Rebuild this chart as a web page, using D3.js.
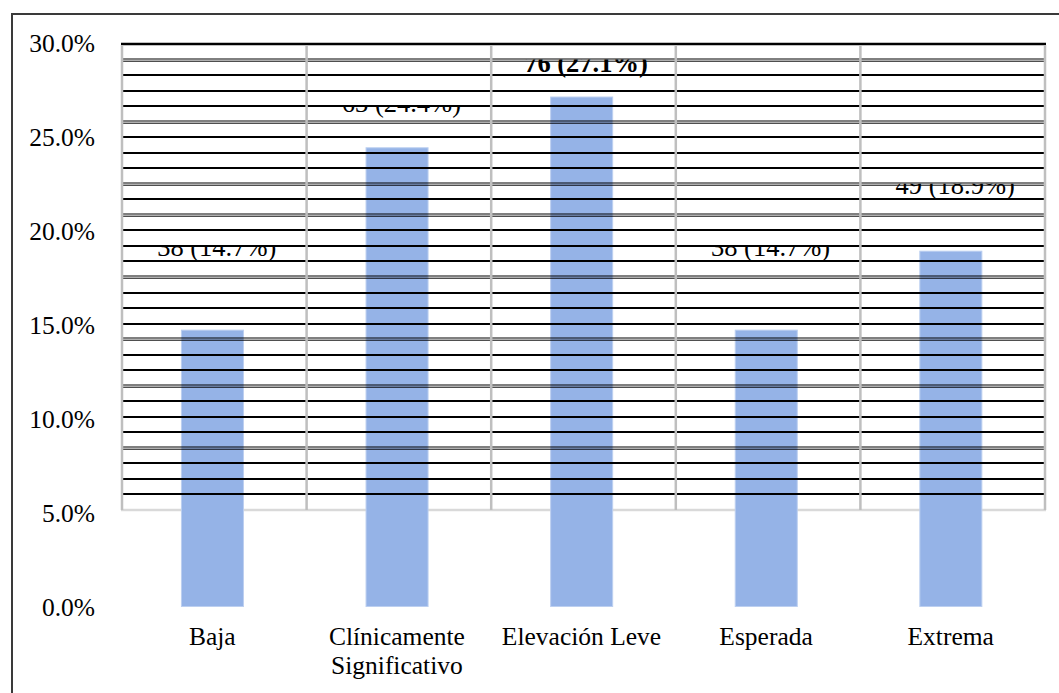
<!DOCTYPE html>
<html>
<head>
<meta charset="utf-8">
<script src="https://cdn.jsdelivr.net/npm/d3@7"></script>
<style>
  html, body { margin: 0; padding: 0; background: #fff; }
  svg { display: block; }
</style>
</head>
<body>
<svg id="chart" width="1059" height="693"></svg>
<script>
// ---- data ----
const categories = ["Baja", "Clínicamente Significativo", "Elevación Leve", "Esperada", "Extrema"];
const categoryLines = [["Baja"], ["Clínicamente", "Significativo"], ["Elevación Leve"], ["Esperada"], ["Extrema"]];
const counts = [38, 63, 76, 38, 49];
const percents = [14.7, 24.4, 27.1, 14.7, 18.9];
const boldLabels = [false, false, true, false, false];
const yTicks = [0, 5, 10, 15, 20, 25, 30];
// overlaid grid rows (30 rows), rows drawn as double lines
const gridRows = d3.range(0, 30);
const doubleRows = [1, 5, 9, 11, 15, 19, 22, 26];

const FONT = "'Liberation Serif', 'Times New Roman', Times, serif";
const svg = d3.select("#chart");
const W = 1059, H = 693;

// outer frame
svg.append("rect").attr("x", 12).attr("y", 14).attr("width", W + 20).attr("height", H + 20)
  .attr("fill", "none").attr("stroke", "#3a3a3a").attr("stroke-width", 2);

// scales
const x = d3.scaleBand().domain(categories).range([122, 1045]).padding(0);
const y = d3.scaleLinear().domain([0, 30]).range([606.5, 42.5]);
const yLabel = d3.scaleLinear().domain([0, 30]).range([474.5, 29.3]);
const yGrid = d3.scaleLinear().domain([0, 30]).range([44, 510]);
const step = x.bandwidth();
const barW = step * 0.336;
const barOffset = step * 0.322;

// y axis tick labels
const yAxis = d3.axisLeft(y).tickValues(yTicks).tickSize(0).tickPadding(0)
  .tickFormat(d => d3.format(".1f")(d) + "%");
const gy = svg.append("g").attr("transform", "translate(95,0)").call(yAxis);
gy.attr("font-family", FONT);
gy.select(".domain").remove();
gy.selectAll("text").attr("font-size", "25.5px").style("font-family", FONT)
  .attr("fill", "#000").attr("dy", "0.34em");

// bottom grey line of overlay grid
svg.append("line").attr("x1", 121).attr("x2", 1046)
  .attr("y1", yGrid(30)).attr("y2", yGrid(30))
  .attr("stroke", "#d9d9d9").attr("stroke-width", 2.5);

// bars
const data = categories.map((c, i) => ({ c, lines: categoryLines[i], n: counts[i], p: percents[i], bold: boldLabels[i] }));
svg.append("g").selectAll("rect").data(data).join("rect")
  .attr("x", d => x(d.c) + barOffset)
  .attr("width", barW)
  .attr("y", d => y(d.p))
  .attr("height", d => y(0) - y(d.p))
  .attr("fill", "#95b3e7")
  .attr("stroke", "#bccff0").attr("stroke-width", 1);

// data labels (clipped at the grid line above them)
const defs = svg.append("defs");
data.forEach((d, i) => {
  const yb = yLabel(d.p);
  const rowIdx = Math.floor(yGrid.invert(yb - 6));
  const clipTop = yGrid(rowIdx);
  defs.append("clipPath").attr("id", "clip" + i)
    .append("rect").attr("x", x(d.c)).attr("width", step)
    .attr("y", clipTop).attr("height", 100);
  svg.append("text")
    .attr("clip-path", `url(#clip${i})`)
    .attr("x", x(d.c) + step / 2 + 2.5)
    .attr("y", yb)
    .attr("text-anchor", "middle")
    .style("font-family", FONT)
    .attr("font-size", "26.5px")
    .attr("fill", "#000")
    .attr("font-weight", d.bold ? "bold" : "normal")
    .text(`${d.n} (${d.p.toFixed(1)}%)`);
});

// horizontal black grid lines
const gLines = svg.append("g");
gridRows.forEach(k => {
  const yy = Math.round(yGrid(k));
  if (k === 0) {
    gLines.append("line").attr("x1", 121).attr("x2", 1046).attr("y1", yy).attr("y2", yy)
      .attr("stroke", "#000").attr("stroke-width", 2.5);
  } else if (doubleRows.includes(k)) {
    [-1, 1.2].forEach(o => {
      gLines.append("line").attr("x1", 123).attr("x2", 1044).attr("y1", yy + o).attr("y2", yy + o)
        .attr("stroke", "#000").attr("stroke-width", 1);
    });
  } else {
    gLines.append("line").attr("x1", 123).attr("x2", 1044).attr("y1", yy).attr("y2", yy)
      .attr("stroke", "#000").attr("stroke-width", 2);
  }
});

// vertical grey grid lines at category boundaries
const bounds = categories.map(c => x(c)).concat([x.range()[1]]);
svg.append("g").selectAll("line").data(bounds).join("line")
  .attr("x1", d => d).attr("x2", d => d)
  .attr("y1", yGrid(0) + 1).attr("y2", yGrid(30))
  .attr("stroke", "#bfbfbf").attr("stroke-width", 2.5);

// category labels
const gx = svg.append("g");
data.forEach(d => {
  const t = gx.append("text")
    .attr("x", x(d.c) + step / 2 - 2)
    .attr("y", 645)
    .attr("text-anchor", "middle")
    .style("font-family", FONT)
    .attr("fill", "#000")
    .attr("font-size", "25.5px");
  d.lines.forEach((ln, j) => {
    t.append("tspan").attr("x", x(d.c) + step / 2 - 2).attr("dy", j === 0 ? 0 : 29).text(ln);
  });
});
</script>
</body>
</html>
